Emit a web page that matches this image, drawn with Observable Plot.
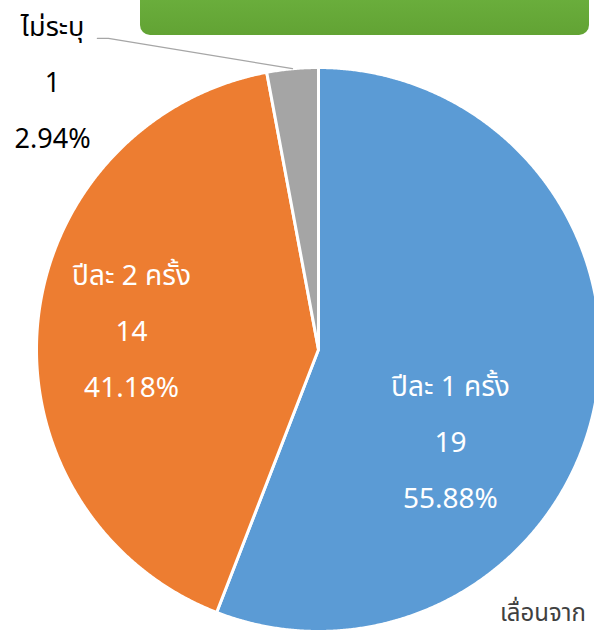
<!DOCTYPE html>
<html>
<head>
<meta charset="utf-8">
<script src="https://cdn.jsdelivr.net/npm/d3@7"></script>
<script src="https://cdn.jsdelivr.net/npm/@observablehq/plot@0.6"></script>
<style>
  html, body { margin: 0; padding: 0; background: #fff; }
  #wrap { position: relative; width: 594px; height: 631px; overflow: hidden; font-family: "Noto Sans Thai", "Noto Sans", "DejaVu Sans", sans-serif; }
  #banner { position: absolute; left: 140px; top: -20px; width: 449px; height: 55px; border-radius: 10px;
            background: linear-gradient(#6eb340, #62a334); }
  #note { position: absolute; left: 500px; top: 600px; font-size: 24px; line-height: 28px; color: #404040; white-space: nowrap; }
  svg { position: absolute; left: 0; top: 0; }
</style>
</head>
<body>
<div id="wrap">
  <div id="chart"></div>
  <div id="banner"></div>
  <div id="note">เลื่อนจาก</div>
</div>
<script>
// ---- data ----
const categories = ["ปีละ 1 ครั้ง", "ปีละ 2 ครั้ง", "ไม่ระบุ"];
const counts = [19, 14, 1];
const percents = ["55.88%", "41.18%", "2.94%"];
const colors = ["#5b9bd5", "#ed7d31", "#a5a5a5"];

// ---- layout (label anchors in unit-radius coordinates) ----
const labelAnchor = [[0.468, -0.30], [-0.663, 0.092], [-0.943, 0.975]];
const labelColor = ["#ffffff", "#ffffff", "#000000"];
const labelSize = [28, 28, 27];
const leaderElbow = [[-0.745, 1.103], [-0.784, 1.103]];

const W = 594, H = 631, cx = 318, cy = 349, R = 282;

const slices = categories.map((c, i) => ({c, n: counts[i], p: percents[i], color: colors[i], i}));
const pie = d3.pie().sort(null).value(d => d.n)(slices);

// polygon outline of each slice
const pts = [];
pie.forEach(s => {
  const k = s.data.c;
  pts.push({k, x: 0, y: 0, color: s.data.color});
  const steps = Math.max(4, Math.ceil((s.endAngle - s.startAngle) / 0.005));
  for (let j = 0; j <= steps; j++) {
    const a = s.startAngle + (s.endAngle - s.startAngle) * j / steps;
    pts.push({k, x: Math.sin(a), y: Math.cos(a), color: s.data.color});
  }
  pts.push({k, x: 0, y: 0, color: s.data.color});
});

const labels = pie.map((s, i) => ({
  x: labelAnchor[i][0], y: labelAnchor[i][1],
  text: `${s.data.c}\n${s.data.n}\n${s.data.p}`,
  color: labelColor[i], size: labelSize[i]
}));

// leader line for the small slice
const g = pie[2];
const mid = (g.startAngle + g.endAngle) / 2;
const leader = [
  {x: Math.sin(mid), y: Math.cos(mid)},
  {x: leaderElbow[0][0], y: leaderElbow[0][1]},
  {x: leaderElbow[1][0], y: leaderElbow[1][1]}
];

const chart = Plot.plot({
  width: W, height: H,
  margin: 0,
  x: {domain: [-cx / R, (W - cx) / R], axis: null},
  y: {domain: [-(H - cy) / R, cy / R], axis: null},
  style: {background: "transparent", fontFamily: "'Noto Sans Thai', 'Noto Sans', 'DejaVu Sans', sans-serif"},
  marks: [
    Plot.line(pts, {x: "x", y: "y", z: "k", fill: "color", stroke: "#ffffff", strokeWidth: 3, strokeLinejoin: "round"}),
    Plot.line(leader, {x: "x", y: "y", stroke: "#a6a6a6", strokeWidth: 1.3}),
    ...labels.map(l => Plot.text([l], {
      x: "x", y: "y", text: "text", fill: l.color, fontSize: l.size,
      lineHeight: 56 / l.size, textAnchor: "middle"
    }))
  ]
});
document.getElementById("chart").appendChild(chart);
</script>
</body>
</html>
